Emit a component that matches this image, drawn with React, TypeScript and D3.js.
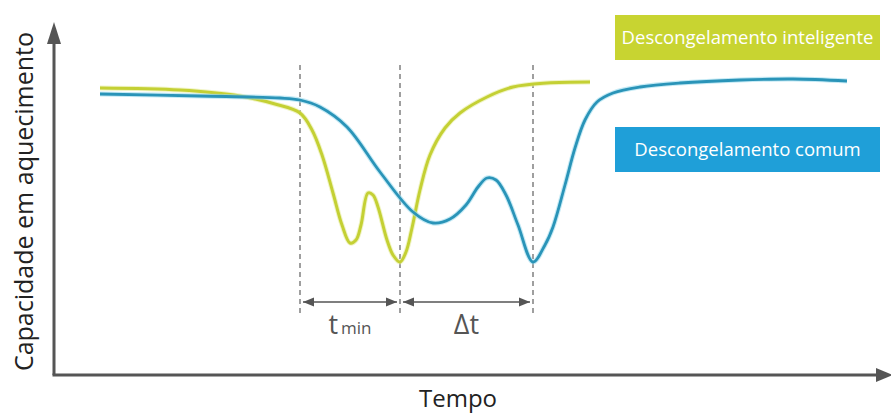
import * as d3 from "d3";

// time (arbitrary units) and heating capacity (arbitrary units)
const commonT = [46, 146, 226, 246, 266, 293, 326, 359, 379, 396, 412, 424, 433, 442, 452, 464, 479, 491, 499, 511, 521, 531, 543, 559, 586, 626, 686, 739, 793];
const commonV = [281, 279, 277, 275, 268, 248, 203, 163, 152, 156, 170, 188, 197, 195, 180, 150, 113, 130, 148, 190, 227, 255, 273, 282, 288, 292, 295, 296, 294];

const smartT = [46, 126, 186, 221, 246, 258, 268, 279, 288, 296, 302, 307, 314, 319, 324, 333, 339, 346, 352, 358, 366, 376, 391, 406, 433, 459, 493, 536];
const smartV = [287, 285, 279, 271, 262, 245, 220, 182, 150, 132, 135, 150, 182, 180, 168, 135, 120, 113, 123, 147, 185, 220, 247, 262, 278, 288, 292, 293];

// event times: start of defrost, smart defrost minimum, common defrost minimum
const markers = [246, 346, 479];

const legend = [
  { label: "Descongelamento inteligente", color: "#c8d431" },
  { label: "Descongelamento comum", color: "#1f9fd8" },
];

const W = 891;
const H = 414;

export default function App() {
  const x = d3.scaleLinear().domain([0, 830]).range([54, 884]);
  const y = d3.scaleLinear().domain([0, 340]).range([375, 35]);

  const line = d3
    .line<[number, number]>()
    .x((d) => x(d[0]))
    .y((d) => y(d[1]))
    .curve(d3.curveCatmullRom.alpha(0.5));

  const common = commonT.map((t, i) => [t, commonV[i]] as [number, number]);
  const smart = smartT.map((t, i) => [t, smartV[i]] as [number, number]);

  const x0 = x(0);
  const y0 = y(0);
  const arrowY = 302;
  const gray = "#555";

  return (
    <svg
      width={W}
      height={H}
      style={{ position: "absolute", left: 0, top: 0, fontFamily: "'Open Sans', 'Noto Sans', sans-serif" }}
    >
      <defs>
        <marker id="ah" viewBox="0 0 10 10" refX="10" refY="5" markerWidth="7" markerHeight="7" orient="auto-start-reverse">
          <path d="M0,1 L10,5 L0,9 Z" fill={gray} />
        </marker>
      </defs>
      <rect width={W} height={H} fill="#fff" />

      {/* axes */}
      <line x1={x0} y1={y0} x2={x0} y2={40} stroke={gray} strokeWidth={3} />
      <path d={`M${x0},22 L${x0 - 7},44 L${x0 + 7},44 Z`} fill={gray} />
      <line x1={x0 - 1.5} y1={y0} x2={878} y2={y0} stroke={gray} strokeWidth={3} />
      <path d={`M${W + 2},${y0} L876,${y0 - 7} L876,${y0 + 7} Z`} fill={gray} />

      <text
        transform={`translate(33,${(y0 + 28) / 2}) rotate(-90)`}
        textAnchor="middle"
        fontSize={25}
        fill="#222"
      >
        Capacidade em aquecimento
      </text>
      <text x={458} y={407} textAnchor="middle" fontSize={24} fill="#222">
        Tempo
      </text>

      {/* dashed event lines */}
      {markers.map((m) => (
        <line key={m} x1={x(m)} x2={x(m)} y1={65} y2={316} stroke="#777" strokeWidth={1.4} strokeDasharray="5,4" />
      ))}

      {/* curves */}
      <path d={line(smart)!} fill="none" stroke="#e6ec9e" strokeWidth={5} opacity={0.6} />
      <path d={line(smart)!} fill="none" stroke="#c4d034" strokeWidth={3} />
      <path d={line(common)!} fill="none" stroke="#9fdcef" strokeWidth={5} opacity={0.6} />
      <path d={line(common)!} fill="none" stroke="#2a94b8" strokeWidth={2.8} />

      {/* interval arrows */}
      <line x1={x(markers[0]) + 3} x2={x(markers[1]) - 3} y1={arrowY} y2={arrowY} stroke={gray} strokeWidth={1.6} markerStart="url(#ah)" markerEnd="url(#ah)" />
      <line x1={x(markers[1]) + 3} x2={x(markers[2]) - 3} y1={arrowY} y2={arrowY} stroke={gray} strokeWidth={1.6} markerStart="url(#ah)" markerEnd="url(#ah)" />

      <text x={(x(markers[0]) + x(markers[1])) / 2} y={334} textAnchor="middle" fill={gray}>
        <tspan fontSize={27}>t</tspan>
        <tspan fontSize={17} dx={3}>min</tspan>
      </text>
      <text x={(x(markers[1]) + x(markers[2])) / 2} y={334} textAnchor="middle" fill={gray} fontSize={27}>
        Δt
      </text>

      {/* legend boxes */}
      {legend.map((l, i) => {
        const top = i === 0 ? 15 : 127;
        return (
          <g key={l.label}>
            <rect x={615} y={top} width={265} height={45} fill={l.color} />
            <text x={747.5} y={top + 29} textAnchor="middle" fontSize={18.5} fill="#fff">
              {l.label}
            </text>
          </g>
        );
      })}
    </svg>
  );
}
